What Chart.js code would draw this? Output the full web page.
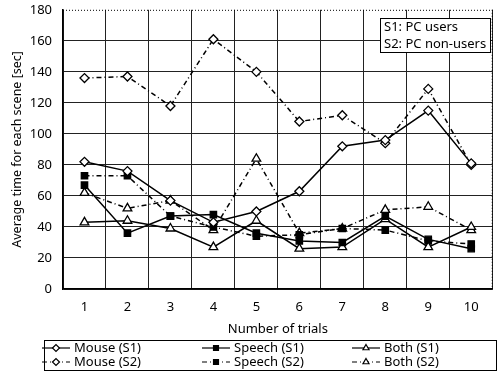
<!DOCTYPE html>
<html>
<head>
<meta charset="utf-8">
<script src="https://cdn.jsdelivr.net/npm/chart.js@4.4.1/dist/chart.umd.min.js"></script>
<style>
  html, body { margin: 0; padding: 0; background: #fff; }
</style>
</head>
<body>
<canvas id="chart" width="499" height="374"></canvas>
<script>
// values
const trials = ['1', '2', '3', '4', '5', '6', '7', '8', '9', '10'];
const mouseS1 = [82, 76, 57, 43, 50, 63, 92, 96, 115, 81];
const mouseS2 = [136, 137, 118, 161, 140, 108, 112, 94, 129, 80];
const speechS1 = [67, 36, 47, 48, 36, 31, 30, 47, 32, 26];
const speechS2 = [73, 73, 47, 40, 34, 35, 39, 38, 31, 29];
const bothS1 = [43, 44, 39, 27, 44, 26, 27, 45, 27, 40];
const bothS2 = [62, 52, 57, 38, 84, 36, 39, 51, 53, 38];
const seriesNames = ['Mouse (S1)', 'Speech (S1)', 'Both (S1)', 'Mouse (S2)', 'Speech (S2)', 'Both (S2)'];
const groupNotes = ['S1: PC users', 'S2: PC non-users'];

const FONT = "'Noto Sans', sans-serif";
const dashS2 = [5, 3, 1, 3];

function serie(label, data, style, filled, dashed) {
  return {
    label: label,
    data: data,
    borderColor: '#000',
    borderWidth: 1.5,
    borderDash: dashed ? dashS2 : [],
    pointStyle: style,
    pointRadius: style === 'triangle' ? 5 : 4.5,
    pointBorderWidth: 1.3,
    pointBorderColor: '#000',
    pointBackgroundColor: filled ? '#000' : '#fff',
    tension: 0,
    fill: false
  };
}

const legendAndFrame = {
  id: 'legendAndFrame',
  afterDraw(chart) {
    const ctx = chart.ctx;
    const a = chart.chartArea;
    ctx.save();

    // dotted top and right edges
    ctx.strokeStyle = '#000';
    ctx.lineWidth = 1;
    ctx.setLineDash([1, 2]);
    ctx.beginPath();
    ctx.moveTo(a.left, a.top + 0.5);
    ctx.lineTo(a.right, a.top + 0.5);
    ctx.moveTo(a.right - 0.5, a.top);
    ctx.lineTo(a.right - 0.5, a.bottom);
    ctx.stroke();
    ctx.setLineDash([]);

    // group note box
    ctx.fillStyle = '#fff';
    ctx.fillRect(380, 18, 110, 34);
    ctx.lineWidth = 1;
    ctx.strokeRect(380.5, 18.5, 110, 34);
    ctx.fillStyle = '#000';
    ctx.font = '13px ' + FONT;
    ctx.textBaseline = 'middle';
    ctx.textAlign = 'left';
    ctx.fillText(groupNotes[0], 384, 27);
    ctx.fillText(groupNotes[1], 384, 44);

    // legend box
    ctx.lineWidth = 1;
    ctx.strokeRect(44.5, 340.5, 452, 30);
    const colX = [42, 202, 352];
    const rowY = [348, 362];
    chart.data.datasets.forEach((ds, i) => {
      const x0 = colX[i % 3];
      const y = rowY[Math.floor(i / 3)];
      ctx.strokeStyle = '#000';
      ctx.lineWidth = 1.2;
      ctx.setLineDash(ds.borderDash);
      ctx.beginPath();
      ctx.moveTo(x0, y);
      ctx.lineTo(x0 + 28, y);
      ctx.stroke();
      ctx.setLineDash([]);
      ctx.fillStyle = ds.pointBackgroundColor;
      ctx.lineWidth = 1.2;
      Chart.helpers.drawPoint(ctx, {
        pointStyle: ds.pointStyle,
        radius: 3.5,
        rotation: 0,
        borderWidth: 1.2
      }, x0 + 14, y);
      ctx.fillStyle = '#000';
      ctx.font = '13px ' + FONT;
      ctx.fillText(seriesNames[i], x0 + 32, y);
    });
    ctx.restore();
  }
};

new Chart(document.getElementById('chart'), {
  type: 'line',
  data: {
    labels: trials,
    datasets: [
      serie(seriesNames[0], mouseS1, 'rectRot', false, false),
      serie(seriesNames[1], speechS1, 'rect', true, false),
      serie(seriesNames[2], bothS1, 'triangle', false, false),
      serie(seriesNames[3], mouseS2, 'rectRot', false, true),
      serie(seriesNames[4], speechS2, 'rect', true, true),
      serie(seriesNames[5], bothS2, 'triangle', false, true)
    ]
  },
  options: {
    responsive: false,
    animation: false,
    layout: { padding: { left: 10, right: 4, top: 0, bottom: 37 } },
    plugins: {
      legend: { display: false },
      tooltip: { enabled: false }
    },
    scales: {
      x: {
        offset: true,
        afterFit(scale) {
          scale.height = 48;
          scale.paddingLeft = 0;
          scale.paddingRight = 0;
        },
        grid: {
          offset: true,
          color: ctx => ctx.index === 10 ? 'rgba(0,0,0,0)' : '#222',
          lineWidth: 1,
          drawTicks: true,
          tickLength: 8,
          tickColor: 'rgba(0,0,0,0)'
        },
        border: { color: '#000', width: 1.5 },
        ticks: { color: '#000', font: { family: FONT, size: 13 }, padding: 2 },
        title: {
          display: true,
          text: 'Number of trials',
          color: '#000',
          font: { family: FONT, size: 13 },
          padding: { top: 0, bottom: 0 }
        }
      },
      y: {
        min: 0,
        max: 180,
        afterFit(scale) { scale.width = 53; },
        grid: {
          color: ctx => ctx.tick && ctx.tick.value === 180 ? 'rgba(0,0,0,0)' : '#222',
          lineWidth: 1,
          drawTicks: true,
          tickLength: 9,
          tickColor: 'rgba(0,0,0,0)'
        },
        border: { color: '#000', width: 1.5 },
        ticks: { stepSize: 20, color: '#000', font: { family: FONT, size: 13 }, padding: 2 },
        title: {
          display: true,
          text: 'Average time for each scene [sec]',
          color: '#000',
          font: { family: FONT, size: 12.5 },
          padding: { top: 0, bottom: 0 }
        }
      }
    }
  },
  plugins: [legendAndFrame]
});
</script>
</body>
</html>
